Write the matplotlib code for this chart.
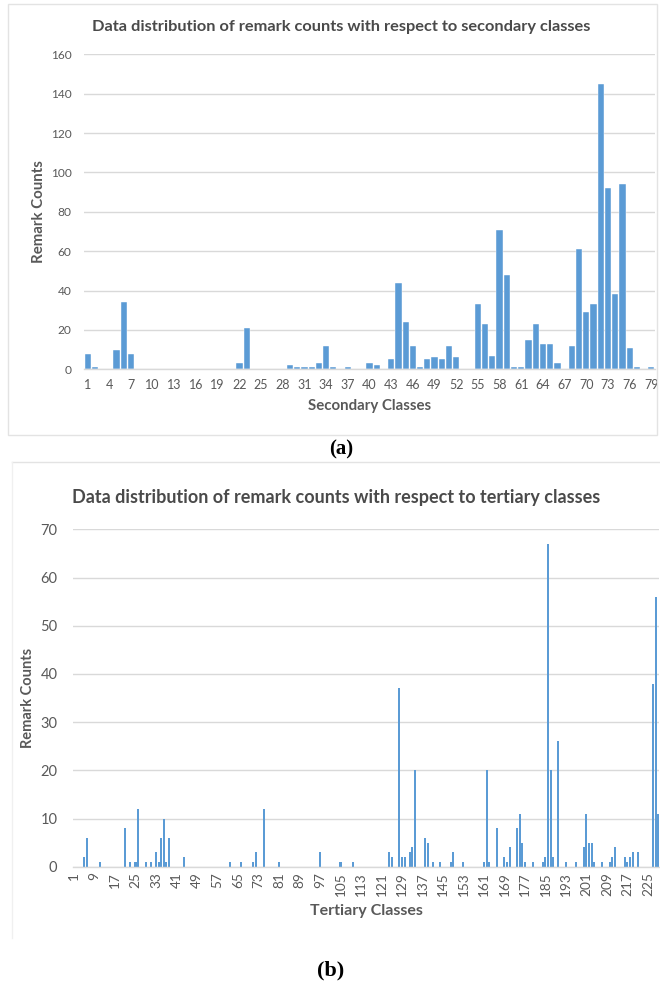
import numpy as np
import matplotlib
matplotlib.use("Agg")
import matplotlib.pyplot as plt
from matplotlib.patches import Rectangle
from matplotlib.lines import Line2D

# ---------------- data ----------------
secondary_classes = list(range(1, 80))
secondary_counts = [8, 1, 0, 0, 10, 34, 8, 0, 0, 0,
                    0, 0, 0, 0, 0, 0, 0, 0, 0, 0,
                    0, 3, 21, 0, 0, 0, 0, 0, 2, 1,
                    1, 1, 3, 12, 1, 0, 1, 0, 0, 3,
                    2, 0, 5, 44, 24, 12, 1, 5, 6, 5,
                    12, 6, 0, 0, 33, 23, 7, 71, 48, 1,
                    1, 15, 23, 13, 13, 3, 0, 12, 61, 29,
                    33, 145, 92, 38, 94, 11, 1, 0, 1]
secondary_ticks = list(range(1, 80, 3))

n_tertiary = 229
tertiary_nonzero_classes = [5, 6, 11, 21, 23, 25, 26, 29, 31, 33, 34, 35, 36, 37, 38,
                            44, 62, 66, 71, 72, 75, 81, 97, 105, 110, 124, 125, 128,
                            129, 130, 132, 133, 134, 138, 139, 141, 144, 148, 149, 153,
                            161, 162, 163, 166, 169, 170, 171, 174, 175, 176, 177, 180,
                            184, 185, 186, 187, 188, 190, 193, 197, 200, 201, 202, 203,
                            204, 207, 210, 211, 212, 216, 217, 218, 219, 221, 227, 228, 229]
tertiary_nonzero_counts = [2, 6, 1, 8, 1, 1, 12, 1, 1, 3, 1, 6, 10, 1, 6,
                           2, 1, 1, 1, 3, 12, 1, 3, 1, 1, 3, 2, 37,
                           2, 2, 3, 4, 20, 6, 5, 1, 1, 1, 3, 1,
                           1, 20, 1, 8, 2, 1, 4, 8, 11, 5, 1, 1,
                           1, 2, 67, 20, 2, 26, 1, 1, 4, 11, 5, 5,
                           1, 1, 1, 2, 4, 2, 1, 2, 3, 3, 38, 56, 11]
tertiary_ticks = list(range(1, 230, 8))

tertiary_classes = np.arange(1, n_tertiary + 1)
tertiary_counts = np.zeros(n_tertiary)
tertiary_counts[np.array(tertiary_nonzero_classes) - 1] = tertiary_nonzero_counts

# ---------------- style ----------------
W, H = 660, 991
BAR = "#5B9BD5"
TXT = "#595959"
TITLE = "#4A4A4A"
GRID = "#D9D9D9"
FONT = ["Lato", "DejaVu Sans"]
SERIF = ["Liberation Serif", "DejaVu Serif"]
plt.rcParams["font.family"] = FONT

fig = plt.figure(figsize=(W / 100, H / 100), dpi=100)


def ax_rect(left, top, right, bottom):
    return [left / W, 1 - bottom / H, (right - left) / W, (bottom - top) / H]


def style_axes(ax, ymax, ystep, ysize):
    ax.set_ylim(0, ymax)
    ax.set_yticks(np.arange(0, ymax + 1, ystep))
    ax.yaxis.grid(True, color=GRID, linewidth=1.0)
    ax.set_axisbelow(True)
    for s in ["top", "right", "left"]:
        ax.spines[s].set_visible(False)
    ax.spines["bottom"].set_color(GRID)
    ax.spines["bottom"].set_linewidth(1.0)
    ax.tick_params(axis="both", length=0, colors=TXT, labelsize=ysize)
    ax.set_facecolor("none")


# frames
fig.add_artist(Rectangle((8 / W, 1 - 435 / H), (657 - 8) / W, (435 - 4) / H,
                         transform=fig.transFigure, fill=False,
                         edgecolor="#E3E3E3", linewidth=1.0))
fig.add_artist(Line2D([12 / W, 1.0], [1 - 462 / H, 1 - 462 / H],
                      transform=fig.transFigure, color="#E3E3E3", linewidth=1.0))
fig.add_artist(Line2D([12 / W, 12 / W], [1 - 462 / H, 1 - 938 / H],
                      transform=fig.transFigure, color="#F0F0F0", linewidth=1.0))

# ---------------- panel (a) ----------------
ax1 = fig.add_axes(ax_rect(84, 54.3, 655, 369.3))
ax1.bar(secondary_classes, secondary_counts, width=0.86, color=BAR,
        edgecolor="white", linewidth=0.3)
ax1.set_xlim(0.5, len(secondary_classes) + 0.5)
style_axes(ax1, 160, 20, 8.6)
ax1.set_xticks(secondary_ticks)
ax1.set_xticklabels([str(t) for t in secondary_ticks])
ax1.tick_params(axis="x", pad=7, labelsize=9)
ax1.tick_params(axis="y", pad=9)
ax1.set_xlabel("Secondary Classes", fontsize=10.8, fontweight="bold", color=TXT, labelpad=6)
ax1.set_ylabel("Remark Counts", fontsize=10.8, fontweight="bold", color=TXT, labelpad=3)
fig.text(341 / W, 1 - 27 / H,
         "Data distribution of remark counts with respect to secondary classes",
         ha="center", va="center", fontsize=11.8, fontweight="bold", color=TITLE)
fig.text(341 / W, 1 - 449 / H, "(a)", ha="center", va="center", fontsize=15,
         fontweight="bold", family=SERIF, color="black")

# ---------------- panel (b) ----------------
ax2 = fig.add_axes(ax_rect(72.7, 529.3, 659.5, 866.7))
ax2.bar(tertiary_classes, tertiary_counts, width=0.8, color=BAR, linewidth=0)
ax2.set_xlim(0.5, n_tertiary + 0.5)
style_axes(ax2, 70, 10, 10.5)
ax2.set_xticks(tertiary_ticks)
ax2.set_xticklabels([str(t) for t in tertiary_ticks], rotation=90)
ax2.tick_params(axis="x", pad=4, labelsize=9.8)
ax2.tick_params(axis="y", pad=11)
ax2.set_xlabel("Tertiary Classes", fontsize=11.5, fontweight="bold", color=TXT, labelpad=6)
ax2.set_ylabel("Remark Counts", fontsize=10.5, fontweight="bold", color=TXT, labelpad=4)
fig.text(336 / W, 1 - 497 / H,
         "Data distribution of remark counts with respect to tertiary classes",
         ha="center", va="center", fontsize=13, fontweight="bold", color=TITLE)
fig.text(331 / W, 1 - 970 / H, "(b)", ha="center", va="center", fontsize=16,
         fontweight="bold", family=SERIF, color="black")

fig.savefig("out.png", dpi=100, facecolor="white")
